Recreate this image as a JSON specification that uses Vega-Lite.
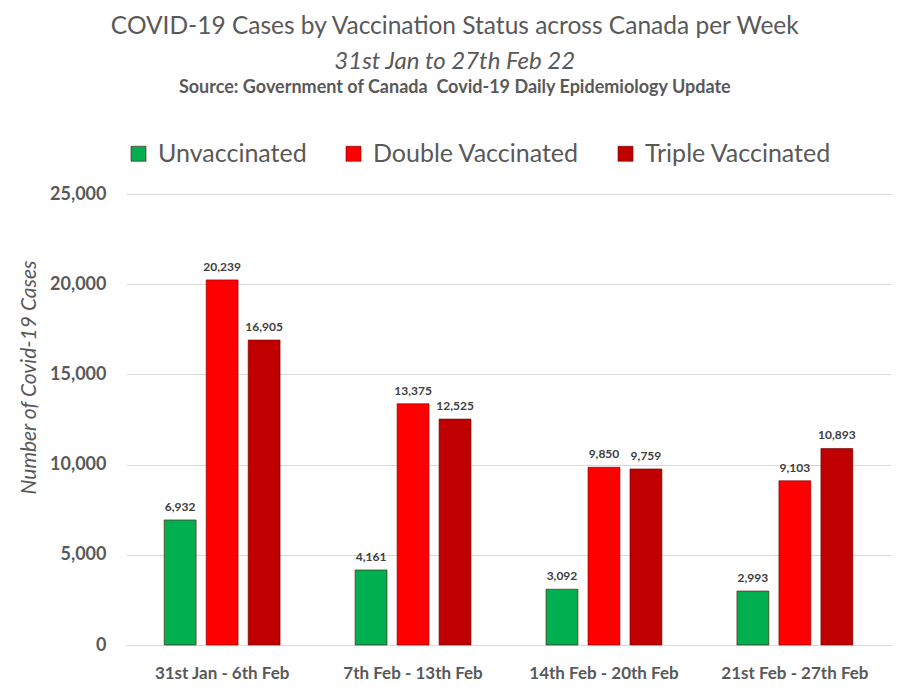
{
  "$schema": "https://vega.github.io/schema/vega-lite/v6.json",
  "background": "white",
  "padding": {"left": 18, "right": 10, "top": 13, "bottom": 10},
  "title": {
    "text": "COVID-19 Cases by Vaccination Status across Canada per Week",
    "subtitle": "31st Jan to 27th Feb 22",
    "anchor": "middle",
    "frame": "bounds",
    "font": "Lato",
    "fontSize": 24.5,
    "fontWeight": "normal",
    "color": "#595959",
    "subtitleFont": "Lato",
    "subtitleFontSize": 24,
    "subtitleFontStyle": "italic",
    "subtitleColor": "#595959",
    "subtitlePadding": 11,
    "offset": 4
  },
  "resolve": {"legend": {"color": "independent"}, "scale": {"color": "independent"}},
  "vconcat": [
    {
      "title": {
        "text": "Source: Government of Canada \u00a0Covid-19 Daily Epidemiology Update",
        "anchor": "middle",
        "frame": "bounds",
        "font": "Lato",
        "fontSize": 18,
        "fontWeight": "bold",
        "color": "#595959",
        "offset": 44
      },
      "width": 765,
      "height": 451,
      "data": {
        "values": [
          {"week": "31st Jan - 6th Feb", "status": "Unvaccinated", "cases": 6932},
          {"week": "31st Jan - 6th Feb", "status": "Double Vaccinated", "cases": 20239},
          {"week": "31st Jan - 6th Feb", "status": "Triple Vaccinated", "cases": 16905},
          {"week": "7th Feb - 13th Feb", "status": "Unvaccinated", "cases": 4161},
          {"week": "7th Feb - 13th Feb", "status": "Double Vaccinated", "cases": 13375},
          {"week": "7th Feb - 13th Feb", "status": "Triple Vaccinated", "cases": 12525},
          {"week": "14th Feb - 20th Feb", "status": "Unvaccinated", "cases": 3092},
          {"week": "14th Feb - 20th Feb", "status": "Double Vaccinated", "cases": 9850},
          {"week": "14th Feb - 20th Feb", "status": "Triple Vaccinated", "cases": 9759},
          {"week": "21st Feb - 27th Feb", "status": "Unvaccinated", "cases": 2993},
          {"week": "21st Feb - 27th Feb", "status": "Double Vaccinated", "cases": 9103},
          {"week": "21st Feb - 27th Feb", "status": "Triple Vaccinated", "cases": 10893}
        ]
      },
      "encoding": {
        "x": {
          "field": "week",
          "type": "nominal",
          "sort": ["31st Jan - 6th Feb", "7th Feb - 13th Feb", "14th Feb - 20th Feb", "21st Feb - 27th Feb"],
          "scale": {"paddingInner": 0.393, "paddingOuter": 0.2},
          "axis": {
            "title": null,
            "labelAngle": 0,
            "ticks": false,
            "labelPadding": 20,
            "labelFont": "Lato",
            "labelFontSize": 17,
            "labelFontWeight": "bold",
            "labelColor": "#595959",
            "domainColor": "#d9d9d9",
            "domainWidth": 1
          }
        },
        "xOffset": {
          "field": "status",
          "type": "nominal",
          "sort": ["Unvaccinated", "Double Vaccinated", "Triple Vaccinated"],
          "scale": {"paddingInner": 0.24, "paddingOuter": 0}
        },
        "y": {
          "field": "cases",
          "type": "quantitative",
          "scale": {"domain": [0, 25000], "nice": false},
          "axis": {
            "values": [0, 5000, 10000, 15000, 20000, 25000],
            "format": ",d",
            "domain": false,
            "ticks": false,
            "grid": true,
            "gridColor": "#d9d9d9",
            "labelPadding": 20,
            "labelFont": "Lato",
            "labelFontSize": 18,
            "labelFontWeight": "bold",
            "labelColor": "#595959",
            "title": "Number of Covid-19 Cases",
            "titleFont": "Lato",
            "titleFontSize": 21,
            "titleFontStyle": "italic",
            "titleFontWeight": "normal",
            "titleColor": "#595959",
            "titlePadding": 10,
            "titleY": 183
          }
        }
      },
      "layer": [
        {
          "mark": {"type": "bar", "stroke": "#6b0000", "strokeWidth": 0.6},
          "encoding": {
            "color": {
              "field": "status",
              "type": "nominal",
              "sort": ["Unvaccinated", "Double Vaccinated", "Triple Vaccinated"],
              "scale": {
                "domain": ["Unvaccinated", "Double Vaccinated", "Triple Vaccinated"],
                "range": ["#00B050", "#FF0000", "#C00000"]
              },
              "legend": {
                "orient": "top",
                "direction": "horizontal",
                "title": null,
                "symbolType": "square",
                "symbolSize": 225,
                "symbolStrokeWidth": 0.6,
                "labelFont": "Lato",
                "labelFontSize": 25,
                "labelColor": "#595959",
                "labelLimit": 0,
                "labelOffset": 7,
                "columnPadding": 34,
                "offset": 27
              }
            }
          }
        },
        {
          "mark": {
            "type": "text",
            "baseline": "bottom",
            "dy": -6,
            "font": "Lato",
            "fontSize": 12,
            "fontWeight": "bold",
            "color": "#404040"
          },
          "encoding": {
            "text": {"field": "cases", "type": "quantitative", "format": ",d"}
          }
        }
      ]
    }
  ],
  "config": {"view": {"stroke": null}, "concat": {"spacing": 0}}
}
